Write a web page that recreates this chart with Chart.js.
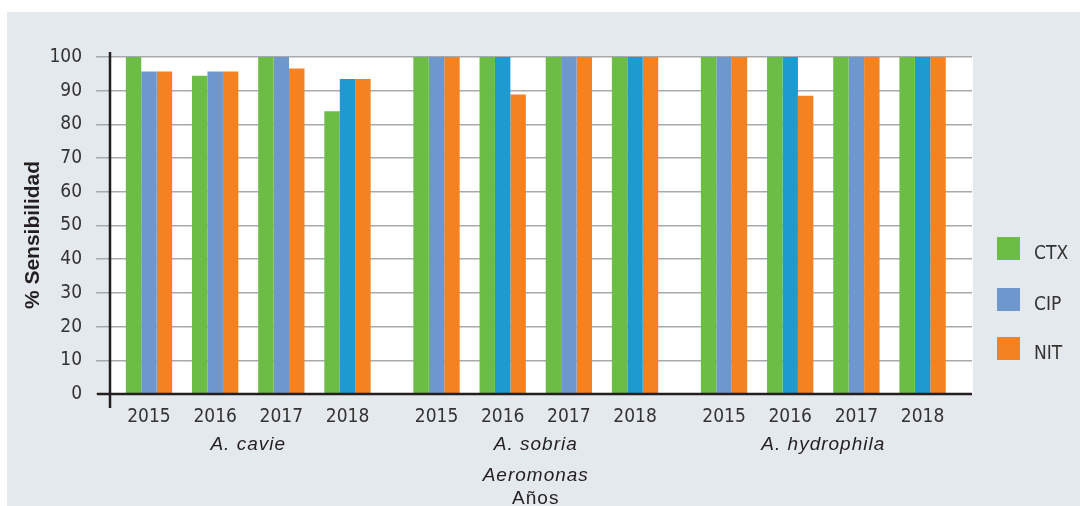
<!DOCTYPE html>
<html>
<head>
<meta charset="utf-8">
<script src="https://cdn.jsdelivr.net/npm/chart.js@4.4.1/dist/chart.umd.min.js"></script>
<style>
  body { margin: 0; background: #fff; }
  #wrap { width: 1080px; height: 506px; position: relative; }
</style>
</head>
<body>
<div id="wrap"><canvas id="chart"></canvas></div>
<script>
const years = ['2015', '2016', '2017', '2018'];
const species = ['A. cavie', 'A. sobria', 'A. hydrophila'];
const seriesNames = ['CTX', 'CIP', 'NIT'];

// % sensibilidad, 4 years per species
const ctxValues = [100, 94.4, 100, 83.9, 100, 100, 100, 100, 100, 100, 100, 100];
const cipValues = [95.7, 95.7, 100, 93.5, 100, 100, 100, 100, 100, 100, 100, 100];
const nitValues = [95.7, 95.7, 96.6, 93.5, 100, 88.9, 100, 100, 100, 88.5, 100, 100];

const yTicks = [0, 10, 20, 30, 40, 50, 60, 70, 80, 90, 100];

const GREEN = '#6CBD45', BLUE = '#6E97CE', BLUE2 = '#1E9AD0', ORANGE = '#F58220';
const cipColors = [BLUE, BLUE, BLUE, BLUE2, BLUE, BLUE2, BLUE, BLUE2, BLUE, BLUE2, BLUE, BLUE2];

const narrow = '"Liberation Sans Narrow", "DejaVu Sans Condensed", sans-serif';
const sans = '"Liberation Sans", Arial, sans-serif';

// species groups sit a bit further apart than the years inside a group
const groupStep = 4.345;
function xPos(i) { return Math.floor(i / years.length) * groupStep + i % years.length; }
const xValues = ctxValues.map((v, i) => xPos(i));
function toPoints(values) { return values.map((v, i) => ({ x: xValues[i], y: v })); }

const decor = {
  id: 'decor',
  beforeDraw(chart) {
    const c = chart.ctx, a = chart.chartArea;
    c.save();
    c.fillStyle = '#fff';
    c.fillRect(0, 0, chart.width, chart.height);
    c.fillStyle = '#E4E9ED';
    c.fillRect(7, 12, chart.width - 7, chart.height - 12);
    c.fillStyle = '#fff';
    c.fillRect(a.left, a.top, a.right - a.left + 1, a.bottom - a.top);
    c.restore();
  },
  afterDraw(chart) {
    const c = chart.ctx, a = chart.chartArea;
    const xs = chart.scales.x, ys = chart.scales.y;
    c.save();
    // axes
    c.strokeStyle = '#231F20';
    c.lineWidth = 2.5;
    c.beginPath();
    c.moveTo(a.left, a.top - 5);
    c.lineTo(a.left, ys.getPixelForValue(0) + 14);
    c.moveTo(a.left - 13, ys.getPixelForValue(0));
    c.lineTo(a.right, ys.getPixelForValue(0));
    c.stroke();

    // species labels
    c.fillStyle = '#231F20';
    c.textAlign = 'center';
    c.textBaseline = 'alphabetic';
    c.letterSpacing = '1px';
    c.font = 'italic 19px ' + sans;
    species.forEach((s, g) => {
      const mid = (xValues[g * 4] + xValues[g * 4 + 3]) / 2;
      c.fillText(s, xs.getPixelForValue(mid), 450);
    });
    const center = xs.getPixelForValue((xValues[4] + xValues[7]) / 2);
    c.fillText('Aeromonas', center, 481);
    c.font = '19px ' + sans;
    c.fillText('Años', center, 504);

    // y title
    c.letterSpacing = '0px';
    c.font = 'bold 21px ' + sans;
    c.translate(33, 235);
    c.rotate(-Math.PI / 2);
    c.textBaseline = 'middle';
    c.fillText('% Sensibilidad', 0, 0);
    c.restore();

    // legend
    c.save();
    c.font = '19px ' + narrow;
    c.textBaseline = 'middle';
    c.textAlign = 'left';
    const tops = [237, 288, 337];
    chart.data.datasets.forEach((ds, k) => {
      c.fillStyle = Array.isArray(ds.backgroundColor) ? ds.backgroundColor[0] : ds.backgroundColor;
      c.fillRect(997, tops[k], 23, 23);
      c.fillStyle = '#333';
      c.fillText(ds.label, 1034, tops[k] + 17);
    });
    c.restore();
  }
};

new Chart(document.getElementById('chart'), {
  type: 'bar',
  data: {
    datasets: [
      { label: seriesNames[0], data: toPoints(ctxValues), backgroundColor: GREEN },
      { label: seriesNames[1], data: toPoints(cipValues), backgroundColor: cipColors },
      { label: seriesNames[2], data: toPoints(nitValues), backgroundColor: ORANGE }
    ]
  },
  options: {
    responsive: true,
    maintainAspectRatio: false,
    animation: false,
    events: [],
    layout: { padding: { left: 0, top: 57, right: 108, bottom: 0 } },
    datasets: { bar: { categoryPercentage: 0.7, barPercentage: 1.0 } },
    plugins: { legend: { display: false }, tooltip: { enabled: false } },
    scales: {
      x: {
        type: 'linear',
        offset: false,
        min: -0.589,
        max: 12.437,
        grid: { display: false },
        border: { display: false },
        afterBuildTicks(scale) { scale.ticks = xValues.map(v => ({ value: v })); },
        afterFit(scale) { scale.height = 112; },
        ticks: {
          autoSkip: false,
          maxRotation: 0,
          padding: 4,
          color: '#333',
          font: { family: narrow, size: 19 },
          callback: (v, i) => years[i % years.length]
        }
      },
      y: {
        min: 0,
        max: 100,
        afterBuildTicks(scale) { scale.ticks = yTicks.map(v => ({ value: v })); },
        afterFit(scale) { scale.width = 110; },
        border: { display: false },
        grid: { color: '#A7A9AC', lineWidth: 1.5, tickLength: 14 },
        ticks: {
          padding: 14,
          color: '#333',
          font: { family: narrow, size: 19 }
        }
      }
    }
  },
  plugins: [decor]
});
</script>
</body>
</html>
